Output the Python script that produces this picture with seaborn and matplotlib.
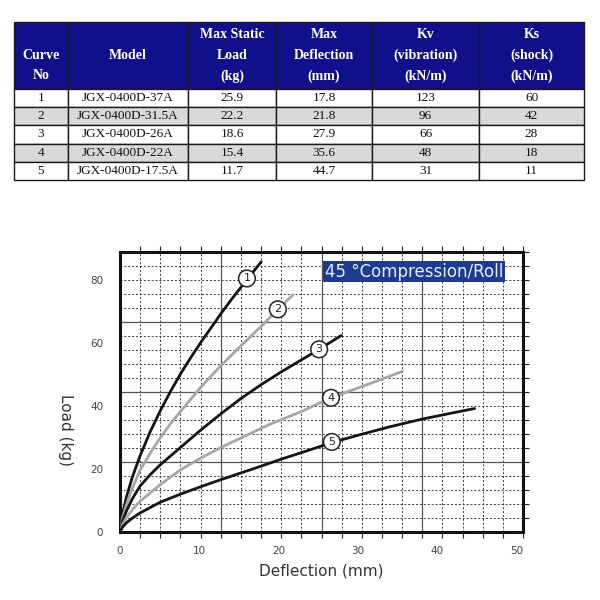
import numpy as np
import pandas as pd
import matplotlib
matplotlib.use("Agg")
import matplotlib.pyplot as plt
from matplotlib.ticker import MultipleLocator
import seaborn as sns

# table data
curve_no = ["1", "2", "3", "4", "5"]
models = ["JGX-0400D-37A", "JGX-0400D-31.5A", "JGX-0400D-26A", "JGX-0400D-22A", "JGX-0400D-17.5A"]
max_load = ["25.9", "22.2", "18.6", "15.4", "11.7"]
max_defl = ["17.8", "21.8", "27.9", "35.6", "44.7"]
kv = ["123", "96", "66", "48", "31"]
ks = ["60", "42", "28", "18", "11"]
headers = ["\nCurve\nNo", "Model", "Max Static\nLoad\n(kg)", "Max\nDeflection\n(mm)",
           "Kv\n(vibration)\n(kN/m)", "Ks\n(shock)\n(kN/m)"]

# curves (deflection mm, load kg)
c1_x = [0, 0.3, 0.8, 1.5, 2.5, 3.8, 5.1, 6.4, 7.7, 9.0, 10.3, 11.8, 12.8, 14.1, 15.4, 16.6, 17.8]
c1_y = [0, 5.5, 11.0, 17.0, 24.0, 31.8, 38.6, 44.8, 50.5, 55.7, 60.6, 66.0, 69.6, 74.0, 78.2, 82.0, 85.8]
c2_x = [0, 0.3, 0.8, 1.5, 2.5, 3.8, 5.1, 6.4, 7.6, 10.2, 12.7, 15.2, 17.8, 19.9, 21.8]
c2_y = [0, 4.2, 8.6, 13.6, 19.5, 25.0, 30.0, 34.5, 38.2, 46.0, 52.8, 59.0, 65.3, 70.7, 75.3]
c3_x = [0, 0.3, 0.8, 1.5, 2.5, 3.8, 5.1, 7.6, 10.1, 12.7, 15.2, 17.8, 20.3, 22.9, 25.1, 27.9]
c3_y = [0, 3.3, 6.6, 10.3, 14.5, 18.2, 21.4, 26.8, 32.2, 37.5, 42.3, 46.8, 50.8, 54.7, 58.0, 62.4]
c4_x = [0, 0.3, 0.8, 1.5, 2.5, 5.1, 7.6, 10.2, 12.7, 15.2, 18.9, 22.9, 26.6, 30.5, 33.0, 35.6]
c4_y = [0, 2.3, 4.5, 6.9, 9.7, 15.1, 19.7, 23.5, 26.8, 29.8, 34.2, 38.3, 42.6, 46.2, 48.5, 51.0]
c5_x = [0, 0.3, 0.8, 1.5, 2.5, 5.1, 7.6, 10.2, 12.7, 15.3, 17.9, 20.4, 23.0, 26.7, 30.4, 34.0, 38.0, 41.5, 44.7]
c5_y = [0, 1.5, 2.9, 4.3, 6.0, 9.5, 12.0, 14.4, 16.6, 18.8, 21.0, 23.2, 25.3, 28.4, 31.0, 33.4, 35.8, 37.6, 39.2]

# circled curve labels
label_x = [16.0, 19.9, 25.1, 26.6, 26.7]
label_y = [80.5, 70.7, 58.0, 42.6, 28.6]

curves = pd.concat([
    pd.DataFrame({"defl": x, "load": y, "curve": n})
    for n, x, y in zip(curve_no, [c1_x, c2_x, c3_x, c4_x, c5_x], [c1_y, c2_y, c3_y, c4_y, c5_y])
])
palette = {"1": "#151515", "2": "#a6a6a6", "3": "#151515", "4": "#a6a6a6", "5": "#151515"}

sns.set_theme(style="white")
plt.rcParams["font.family"] = ["DejaVu Sans"]

fig = plt.figure(figsize=(6, 6), dpi=100)
fig.patch.set_facecolor("white")

# ---- table ----
tax = fig.add_axes([14 / 600, 420 / 600, 570 / 600, 158 / 600])
tax.axis("off")
rows = [list(r) for r in zip(curve_no, models, max_load, max_defl, kv, ks)]
col_w = np.array([54, 120, 88, 96, 107, 105]) / 570
tbl = tax.table(cellText=[headers] + rows, colWidths=col_w, bbox=[0, 0, 1, 1], cellLoc="center")
tbl.auto_set_font_size(False)
for (r, c), cell in tbl.get_celld().items():
    cell.set_edgecolor("#1a1a1a")
    cell.set_linewidth(1.0)
    txt = cell.get_text()
    txt.set_family("Liberation Serif")
    if r == 0:
        cell.set_height(0.424)
        cell.set_facecolor("#10108a")
        txt.set_color("white")
        txt.set_fontweight("bold")
        txt.set_fontsize(10)
        txt.set_linespacing(1.75)
    else:
        cell.set_height(0.1152)
        cell.set_facecolor("#d9d9d9" if r % 2 == 0 else "white")
        txt.set_color("#111111")
        txt.set_fontsize(9.5)

# ---- chart ----
ax = fig.add_axes([120 / 600, 68 / 600, 403 / 600, 280 / 600])
ax.set_xlim(0, 50.8)
ax.set_ylim(0, 88.9)

ax.xaxis.set_minor_locator(MultipleLocator(50.8 / 20))
ax.yaxis.set_minor_locator(MultipleLocator(88.9 / 20))
ax.grid(False, which="major")
ax.grid(True, which="minor", color="#3a3a3a", linestyle=(0, (2, 2)), linewidth=0.7)
for k in range(1, 4):
    ax.axvline(k * 50.8 / 4, color="#555555", linewidth=0.9, zorder=1)
    ax.axhline(k * 88.9 / 4, color="#555555", linewidth=0.9, zorder=1)

sns.lineplot(data=curves, x="defl", y="load", hue="curve", palette=palette,
             estimator=None, sort=False, linewidth=2.0, legend=False, ax=ax, zorder=3)

for n, lx, ly in zip(curve_no, label_x, label_y):
    ax.text(lx, ly, n, ha="center", va="center", fontsize=8, color="#222222", zorder=5,
            bbox=dict(boxstyle="circle,pad=0.3", fc="white", ec="#222222", lw=1.1))

ax.text(0.7295, 0.93, "45 °Compression/Roll", transform=ax.transAxes, ha="center", va="center",
        fontsize=12, color="#e4ecff", zorder=6,
        bbox=dict(boxstyle="square,pad=0.1", fc="#1f3b8f", ec="none"))

ax.set_xticks([0, 10, 20, 30, 40, 50])
ax.set_yticks([0, 20, 40, 60, 80])
ax.tick_params(which="major", length=0, labelsize=7.5, labelcolor="#444444")
ax.tick_params(axis="x", which="major", pad=10)
ax.tick_params(axis="y", which="major", pad=12)
ax.tick_params(which="minor", direction="out", length=4, width=0.8, color="#222222",
               bottom=True, top=True, right=True, left=False)

for side in ax.spines.values():
    side.set_color("#111111")
    side.set_linewidth(2.2)

ax.set_xlabel("")
ax.set_ylabel("")
fig.text(321 / 600, 1 - 571 / 600, "Deflection (mm)", ha="center", va="center",
         fontsize=11, color="#333333")
fig.text(65 / 600, 1 - 430 / 600, "Load (kg)", ha="center", va="center", rotation=270,
         fontsize=11, color="#333333")

fig.savefig("out.png", dpi=100, facecolor="white")
